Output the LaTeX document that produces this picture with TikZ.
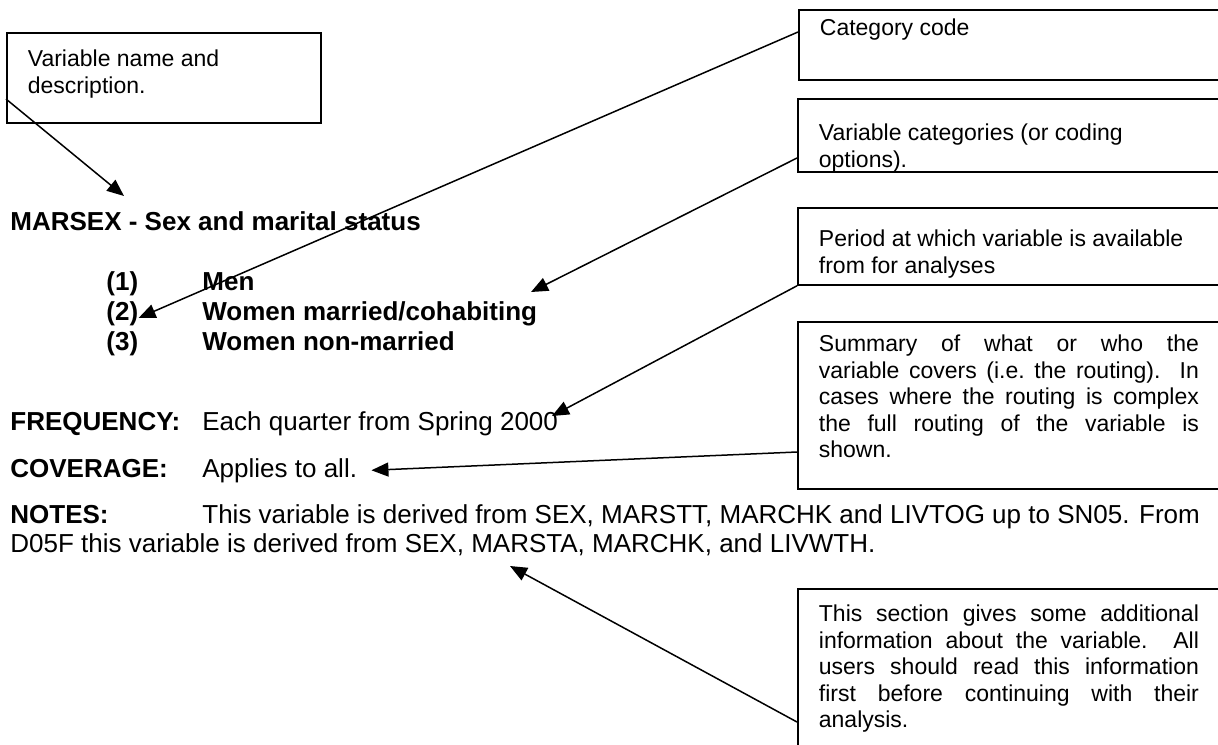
\documentclass[tikz,border=0pt]{standalone}
\usepackage{fontspec}
\setmainfont{Liberation Sans}
\usetikzlibrary{arrows.meta}

% top-aligned text block of fixed height: pad, height, width, text
\newcommand{\notetext}[4]{\parbox[c][#2][t]{#3}{\vspace*{#1}#4}}

\begin{document}
\begin{tikzpicture}[x=0.5pt, y=-0.5pt,
    every node/.style={font=\fontsize{13pt}{15pt}\selectfont},
    callout/.style={draw, line width=0.9pt, anchor=north west, inner xsep=10.5pt, inner ysep=0pt,
      font=\fontsize{11.5pt}{13.25pt}\selectfont},
    entry/.style={anchor=base west, inner sep=0pt},
    bentry/.style={entry, font=\fontsize{13pt}{15pt}\selectfont\bfseries},
    arr/.style={line width=0.75pt, -{Triangle[length=8.5pt, width=7pt]}}]
  \clip (0,0) rectangle (1218,744);

  % the callout boxes
  \node[callout] (namebox) at (6,32)
    {\notetext{8.6pt}{45pt}{136pt}{Variable name and\\description.}};
  \node[callout] (codebox) at (798,9)
    {\notetext{4.6pt}{35pt}{196.5pt}{Category code}};
  \node[callout] (catbox) at (797,98)
    {\notetext{12.6pt}{36.5pt}{196.5pt}{Variable categories (or coding\\options).}};
  \node[callout] (periodbox) at (797,207)
    {\notetext{11.1pt}{38.5pt}{196.5pt}{Period at which variable is available\\from for analyses}};
  \node[callout] (coverbox) at (797,321)
    {\notetext{6.6pt}{83.5pt}{196.5pt}{\parbox[t]{190pt}{Summary of what or who the\linebreak
      variable covers (i.e.\ the routing).\ \ In\linebreak
      cases where the routing is complex\linebreak
      the full routing of the variable is\linebreak
      shown.}}};
  \node[callout] (notebox) at (797,588)
    {\notetext{8.1pt}{86pt}{196.5pt}{\parbox[t]{190pt}{This section gives some additional\linebreak
      information about the variable.\ \ All\linebreak
      users should read this information\linebreak
      first before continuing with their\linebreak
      analysis.}}};

  % the variable entry
  \node[bentry] (title) at (10,230) {MARSEX - Sex and marital status};
  \node[bentry] (c1) at (106,290) {(1)};
  \node[bentry] (c2) at (106,320) {(2)};
  \node[bentry] (c3) at (106,350) {(3)};
  \node[bentry] (men) at (202,290) {Men};
  \node[bentry] (womar) at (202,320) {Women married/cohabiting};
  \node[bentry] (wonon) at (202,350) {Women non-married};

  \node[bentry] (freqlbl) at (10,430) {FREQUENCY:};
  \node[entry] (freqval) at (202,430) {Each quarter from Spring 2000};
  \node[bentry] (covlbl) at (10,477) {COVERAGE:};
  \node[entry] (covval) at (202,477) {Applies to all.};
  \node[bentry] (noteslbl) at (10,523) {NOTES:};
  \node[entry] (notesval) at (202,523) {This variable is derived from SEX, MARSTT, MARCHK and LIVTOG up to SN05. From};
  \node[entry] (notes2) at (10,552) {D05F this variable is derived from SEX, MARSTA, MARCHK, and LIVWTH.};

  % free ends of the pointers
  \coordinate (nametip) at (124,196);
  \coordinate (cattip) at (531,292);
  \coordinate (periodtip) at (552,416);
  \coordinate (notestip) at (510,566);

  \draw[arr] (namebox.west |- 0,99) -- (nametip);
  \draw[arr] (codebox.west |- 0,32) -- ([yshift=1pt]c2.base east);
  \draw[arr] (catbox.west |- 0,158) -- (cattip);
  \draw[arr] (periodbox.south west) -- (periodtip);
  \draw[arr] (coverbox.west |- 0,452) -- ([xshift=7pt]covval.east);
  \draw[arr] (notebox.west |- 0,722) -- (notestip);
\end{tikzpicture}
\end{document}
